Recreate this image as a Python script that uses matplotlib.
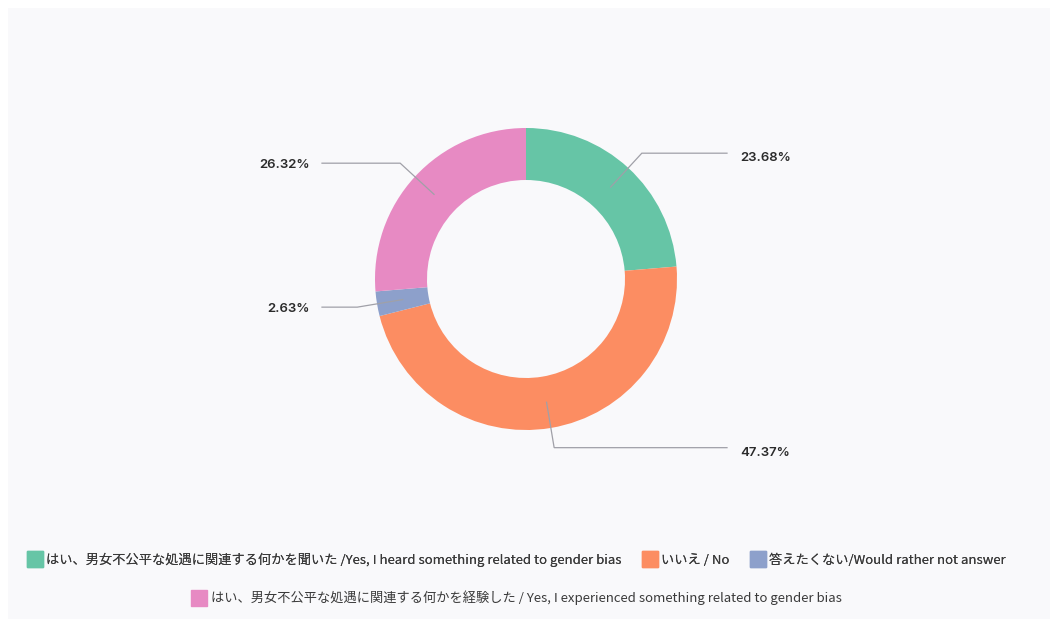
import numpy as np
import matplotlib
matplotlib.use('Agg')
import matplotlib.pyplot as plt
from matplotlib.patches import Rectangle
from matplotlib.lines import Line2D

plt.rcParams['font.family'] = ['Noto Sans CJK JP', 'DejaVu Sans']

labels = [
    'はい、男女不公平な処遇に関連する何かを聞いた /Yes, I heard something related to gender bias',
    'いいえ / No',
    '答えたくない/Would rather not answer',
    'はい、男女不公平な処遇に関連する何かを経験した / Yes, I experienced something related to gender bias',
]
counts = [9, 18, 1, 10]
colors = ['#66c5a6', '#fc8d62', '#8da0cb', '#e78ac3']

W, H = 1050, 619
fig = plt.figure(figsize=(W / 100, H / 100), dpi=100)
fig.patch.set_facecolor('white')
ax = fig.add_axes([0, 0, 1, 1])
ax.set_xlim(0, W)
ax.set_ylim(0, H)
ax.set_aspect('equal')
ax.axis('off')

# light panel behind the chart
ax.add_patch(Rectangle((8, 0), W - 8, H - 8, facecolor='#f9f9fb', edgecolor='none', zorder=0))

cx, cy = 526, H - 279
R, width = 151, 52
wedges, _ = ax.pie(counts, colors=colors, startangle=90, counterclock=False,
                   radius=R, center=(cx, cy), frame=True,
                   wedgeprops=dict(width=width, edgecolor='none', linewidth=0))
ax.set_xlim(0, W)
ax.set_ylim(0, H)
ax.axis('off')

total = sum(counts)
rmid = R - width / 2
relb = R + 20
for w, c in zip(wedges, counts):
    ang = np.deg2rad((w.theta1 + w.theta2) / 2)
    x0, y0 = cx + rmid * np.cos(ang), cy + rmid * np.sin(ang)
    x1, y1 = cx + relb * np.cos(ang), cy + relb * np.sin(ang)
    right = np.cos(ang) > 0
    x2 = 727 if right else 322
    ax.plot([x0, x1, x2], [y0, y1, y1], color='#a0a0a8', lw=0.9, zorder=5,
            solid_joinstyle='miter')
    txt = f'{100 * c / total:.2f}%'
    ax.text(x2 + 13 if right else x2 - 12, y1 - (5 if right else 2), txt,
            ha='left' if right else 'right', va='center',
            fontsize=9.5, fontweight='semibold', color='#2b2b2b',
            family=['Inter', 'DejaVu Sans'])

def handle(col):
    return Line2D([], [], marker='s', linestyle='none', markersize=11,
                  markerfacecolor=col, markeredgecolor=col)

leg1 = fig.legend([handle(c) for c in colors[:3]], labels[:3], ncol=3,
                  loc='center', bbox_to_anchor=(517 / W, 1 - 560 / H),
                  frameon=False, fontsize=9.5, handlelength=1.0,
                  handletextpad=0.4, columnspacing=1.6, labelcolor='#3a3a3a')
fig.add_artist(leg1)
fig.legend([handle(colors[3])], labels[3:], ncol=1,
           loc='center', bbox_to_anchor=(517 / W, 1 - 598 / H),
           frameon=False, fontsize=9.5, handlelength=1.0,
           handletextpad=0.4, labelcolor='#3a3a3a')

fig.savefig('out.png', dpi=100, facecolor='white')
